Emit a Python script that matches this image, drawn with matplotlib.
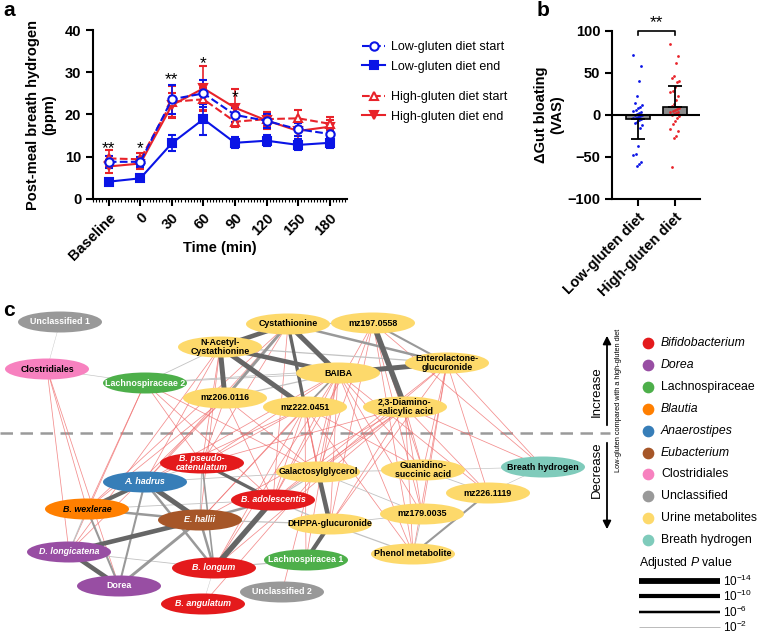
import numpy as np
import matplotlib.pyplot as plt
from matplotlib.patches import Ellipse
from matplotlib.lines import Line2D
from matplotlib.ticker import MultipleLocator

plt.rcParams['font.family'] = ['Liberation Sans', 'DejaVu Sans']
plt.rcParams['mathtext.fontset'] = 'custom'
plt.rcParams['mathtext.rm'] = 'Liberation Sans'
plt.rcParams['mathtext.it'] = 'Liberation Sans:italic'
plt.rcParams['axes.linewidth'] = 1.5

# ---------------- panel a: breath hydrogen ----------------
times = ['Baseline', '0', '30', '60', '90', '120', '150', '180']
low_start = [8.8, 8.8, 23.6, 25.0, 19.9, 18.5, 16.5, 15.4]
low_start_err = [1.4, 1.2, 3.4, 3.2, 1.6, 1.6, 1.6, 1.4]
low_end = [4.1, 4.9, 13.2, 18.9, 13.3, 13.8, 12.8, 13.3]
low_end_err = [0.5, 0.7, 1.9, 3.7, 1.3, 1.3, 1.3, 1.3]
high_start = [9.6, 9.4, 23.0, 23.6, 18.3, 18.9, 19.1, 17.8]
high_start_err = [2.0, 1.6, 3.7, 2.6, 1.3, 1.7, 2.0, 1.5]
high_end = [7.7, 8.4, 22.2, 26.2, 21.6, 18.6, 16.1, 17.1]
high_end_err = [1.5, 1.4, 3.0, 5.3, 4.4, 2.0, 1.8, 1.5]
star_labels = ['**', '*', '**', '*', '*']
star_y = [13.6, 13.6, 29.9, 33.7, 25.6]

# ---------------- panel b: gut bloating ----------------
groups = ['Low-gluten diet', 'High-gluten diet']
bar_mean = [-5, 9.5]
bar_err = [24, 25]
low_vals = [72, 58, 41, 23, 14, 12, 10, 8, 6, 5, 3, 2, 1, 0, 0, -1, -2, -3,
            -4, -5, -6, -8, -10, -12, -15, -37, -46, -48, -56, -58, -61]
high_vals = [85, 70, 62, 46, 44, 41, 39, 33, 29, 27, 23, 18, 13, 11, 8, 7, 6,
             5, 4, 3, 2, 1, 0, -1, -3, -7, -11, -17, -19, -25, -27, -62]

# ---------------- panel c: network ----------------
node_keys = ['U1', 'CLO', 'L2', 'NAC', 'CYS', 'M197', 'BAI', 'ENT', 'M206', 'M222',
             'DIA', 'BPS', 'AHA', 'GAL', 'GUA', 'BH', 'BWE', 'BAD', 'M226', 'EHA',
             'DHP', 'M179', 'DLO', 'LA1', 'PHE', 'BLO', 'DOR', 'U2', 'BAN']
node_labels = ['Unclassified 1', 'Clostridiales', 'Lachnospiraceae 2',
               'N-Acetyl-\nCystathionine', 'Cystathionine', 'mz197.0558', 'BAIBA',
               'Enterolactone-\nglucuronide', 'mz206.0116', 'mz222.0451',
               '2,3-Diamino-\nsalicylic acid', 'B. pseudo-\ncatenulatum', 'A. hadrus',
               'Galactosylglycerol', 'Guanidino-\nsuccinic acid', 'Breath hydrogen',
               'B. wexlerae', 'B. adolescentis', 'mz226.1119', 'E. hallii',
               'DHPPA-glucuronide', 'mz179.0035', 'D. longicatena', 'Lachnospiracea 1',
               'Phenol metabolite', 'B. longum', 'Dorea', 'Unclassified 2', 'B. angulatum']
node_x = [60, 47, 145, 220, 288, 373, 338, 447, 225, 305, 405, 202, 145, 318, 423,
          543, 87, 273, 488, 200, 330, 422, 69, 306, 413, 214, 119, 282, 203]
node_y = [322, 369, 383, 347, 324, 323, 373, 363, 398, 407, 407, 463, 482, 472, 470,
          467, 509, 500, 493, 520, 524, 514, 552, 560, 554, 568, 586, 592, 604]
node_group = ['unc', 'clo', 'lach', 'uri', 'uri', 'uri', 'uri', 'uri', 'uri', 'uri',
              'uri', 'bif', 'ana', 'uri', 'uri', 'bre', 'bla', 'bif', 'uri', 'eub',
              'uri', 'uri', 'dor', 'lach', 'uri', 'bif', 'dor', 'unc', 'bif']
node_italic = ['BPS', 'AHA', 'BWE', 'BAD', 'EHA', 'DLO', 'BLO', 'BAN']

group_keys = ['bif', 'dor', 'lach', 'bla', 'ana', 'eub', 'clo', 'unc', 'uri', 'bre']
group_names = ['Bifidobacterium', 'Dorea', 'Lachnospiraceae', 'Blautia', 'Anaerostipes',
               'Eubacterium', 'Clostridiales', 'Unclassified', 'Urine metabolites',
               'Breath hydrogen']
group_italic = [True, True, False, True, True, True, False, False, False, False]
group_colors = ['#e41a1c', '#984ea3', '#4daf4a', '#ff7f00', '#377eb8', '#a65628',
                '#f781bf', '#999999', '#fdd96b', '#7fcbbb']
dark_text_groups = ['uri', 'bre', 'clo', 'bla']

# positive associations (grey): node, node, -log10 adjusted P
pos_edges = [('CYS', 'BAI', 12), ('CYS', 'NAC', 11), ('NAC', 'M206', 12), ('NAC', 'M222', 12),
             ('NAC', 'BAI', 11), ('CYS', 'M222', 8), ('M197', 'DIA', 13), ('BAI', 'ENT', 12),
             ('CYS', 'ENT', 6), ('M197', 'ENT', 5), ('M206', 'CYS', 7), ('BAI', 'M222', 4),
             ('NAC', 'ENT', 3), ('L2', 'NAC', 2), ('L2', 'BAI', 2), ('L2', 'ENT', 2),
             ('CLO', 'L2', 1.5), ('U1', 'CLO', 1), ('GAL', 'DHP', 11), ('DHP', 'LA1', 10),
             ('BAD', 'BLO', 13), ('AHA', 'EHA', 12), ('AHA', 'BWE', 10), ('EHA', 'DLO', 11),
             ('DLO', 'DOR', 11), ('BPS', 'BAD', 8), ('EHA', 'BAD', 6), ('EHA', 'BWE', 6),
             ('EHA', 'DOR', 7), ('EHA', 'BLO', 6), ('AHA', 'DOR', 5), ('AHA', 'BLO', 6),
             ('BWE', 'DOR', 5), ('BPS', 'BLO', 4), ('BPS', 'EHA', 3), ('M226', 'PHE', 5),
             ('M179', 'GAL', 2), ('GUA', 'M226', 2), ('BH', 'GUA', 1.5), ('BH', 'M226', 1.5),
             ('DHP', 'BAD', 3), ('DHP', 'EHA', 3), ('GAL', 'AHA', 2), ('GAL', 'BAD', 3),
             ('LA1', 'BLO', 3), ('PHE', 'DHP', 3), ('M179', 'DHP', 2), ('BWE', 'DLO', 3),
             ('BLO', 'BAN', 1), ('DLO', 'BLO', 2), ('BPS', 'AHA', 2), ('BWE', 'BAD', 2),
             ('GAL', 'GUA', 2), ('M179', 'PHE', 2), ('M206', 'BAI', 3), ('CYS', 'M197', 3)]
# negative associations (red)
neg_edges = [('BAI', 'BPS'), ('BAI', 'BAD'), ('BAI', 'GAL'), ('BAI', 'GUA'), ('BAI', 'M179'),
             ('BAI', 'PHE'), ('BAI', 'DHP'), ('BAI', 'BLO'), ('BAI', 'LA1'), ('BAI', 'EHA'),
             ('BAI', 'M226'), ('BAI', 'AHA'), ('DIA', 'GAL'), ('DIA', 'GUA'), ('DIA', 'M179'),
             ('DIA', 'PHE'), ('DIA', 'DHP'), ('DIA', 'BAD'), ('DIA', 'BPS'), ('DIA', 'M226'),
             ('DIA', 'BLO'), ('DIA', 'EHA'), ('M222', 'BPS'), ('M222', 'AHA'), ('M222', 'BAD'),
             ('M222', 'GAL'), ('M222', 'DHP'), ('M222', 'BLO'), ('M222', 'PHE'), ('M222', 'GUA'),
             ('M222', 'EHA'), ('ENT', 'GUA'), ('ENT', 'M179'), ('ENT', 'PHE'), ('ENT', 'BH'),
             ('ENT', 'GAL'), ('ENT', 'DHP'), ('ENT', 'M226'), ('ENT', 'BAD'), ('M197', 'GAL'),
             ('M197', 'GUA'), ('M197', 'PHE'), ('M197', 'M179'), ('M197', 'BH'), ('M197', 'BAD'),
             ('M197', 'DHP'), ('CYS', 'BPS'), ('CYS', 'AHA'), ('CYS', 'BWE'), ('CYS', 'GAL'),
             ('CYS', 'BAD'), ('NAC', 'BPS'), ('NAC', 'AHA'), ('NAC', 'DLO'), ('NAC', 'EHA'),
             ('M206', 'AHA'), ('M206', 'BWE'), ('M206', 'BPS'), ('M206', 'DLO'), ('M206', 'BAD'),
             ('M206', 'GAL'), ('L2', 'BWE'), ('L2', 'DLO'), ('L2', 'BPS'), ('L2', 'GAL'),
             ('L2', 'BAD'), ('CLO', 'DLO'), ('CLO', 'BWE'), ('CLO', 'DOR'), ('DIA', 'BH'),
             ('M222', 'LA1'), ('GAL', 'BAN'), ('BAI', 'U2')]
pval_exp = [14, 10, 6, 2]

blue = '#0a14e6'
red = '#e8232a'

fig = plt.figure(figsize=(7.57, 6.36), dpi=100)

# ---------- a ----------
axa = fig.add_axes([93 / 757, 1 - 199 / 636, 254 / 757, 169 / 636])
xpos = np.arange(len(times))
ekw = dict(capsize=3, elinewidth=1.2, capthick=1.2, markersize=6, lw=1.5, mew=1.5)
axa.errorbar(xpos, high_end, yerr=high_end_err, color=red, marker='v', ls='-', **ekw)
axa.errorbar(xpos, high_start, yerr=high_start_err, color=red, marker='^', mfc='white',
             ls='--', **ekw)
axa.errorbar(xpos, low_end, yerr=low_end_err, color=blue, marker='s', ls='-', **ekw)
axa.errorbar(xpos, low_start, yerr=low_start_err, color=blue, marker='o', mfc='white',
             ls='--', **ekw)
for i, (s, y) in enumerate(zip(star_labels, star_y)):
    axa.text(xpos[i], y - 1.6, s, ha='center', va='center', fontsize=12.5)
axa.set_xlim(-0.5, 7.55)
axa.set_ylim(0, 40)
axa.set_yticks([0, 10, 20, 30, 40])
axa.set_xticks(xpos)
axa.set_xticklabels(times, rotation=45, ha='right', rotation_mode='anchor')
axa.xaxis.set_minor_locator(MultipleLocator(0.1))
axa.tick_params(which='minor', length=2.5, width=0.8)
axa.tick_params(which='major', length=5, width=1.5, labelsize=10.5)
for lab in axa.get_xticklabels() + axa.get_yticklabels():
    lab.set_fontweight('bold')
axa.spines[['top', 'right']].set_visible(False)
axa.set_ylabel('Post-meal breath hydrogen\n(ppm)', fontsize=10.5, fontweight='bold',
               labelpad=6)
axa.set_xlabel('Time (min)', fontsize=10.5, fontweight='bold')
axa.xaxis.set_label_coords(0.5, -0.25)

hkw = dict(markersize=6, mew=1.5, lw=1.5)
h1 = Line2D([], [], color=blue, ls='--', marker='o', mfc='white', **hkw)
h2 = Line2D([], [], color=blue, ls='-', marker='s', **hkw)
h3 = Line2D([], [], color=red, ls='--', marker='^', mfc='white', **hkw)
h4 = Line2D([], [], color=red, ls='-', marker='v', **hkw)
lkw = dict(loc='upper left', frameon=False, fontsize=9, handlelength=1.85,
           handletextpad=0.45, labelspacing=0.62, borderpad=0, borderaxespad=0)
fig.legend([h1, h2], ['Low-gluten diet start', 'Low-gluten diet end'],
           bbox_to_anchor=(362 / 757, 1 - 41 / 636), **lkw)
fig.legend([h3, h4], ['High-gluten diet start', 'High-gluten diet end'],
           bbox_to_anchor=(362 / 757, 1 - 91 / 636), **lkw)

# ---------- b ----------
axb = fig.add_axes([612 / 757, 1 - 199 / 636, 88 / 757, 168 / 636])
bx = np.array([0, 1])
axb.bar(bx, bar_mean, width=0.65, color='#8c8c8c', edgecolor='black', lw=1.2, zorder=2)
axb.errorbar(bx[0], bar_mean[0], yerr=[[bar_err[0]], [0]], color='black', capsize=5,
             elinewidth=1.3, capthick=1.3, zorder=4)
axb.errorbar(bx[1], bar_mean[1], yerr=[[0], [bar_err[1]]], color='black', capsize=5,
             elinewidth=1.3, capthick=1.3, zorder=4)
for gi, vals, col in [(0, low_vals, blue), (1, high_vals, red)]:
    offs = np.array([((k * 7) % 9 - 4) * 0.03 for k in range(len(vals))])
    axb.scatter(gi + offs, vals, s=4, color=col, zorder=3, linewidths=0)
axb.axhline(0, color='black', lw=1.5, zorder=3)
axb.plot([0, 0, 1, 1], [95, 100, 100, 95], color='black', lw=1.2, clip_on=False)
axb.text(0.5, 101, '**', ha='center', va='bottom', fontsize=12.5)
axb.set_xlim(-0.7, 1.68)
axb.set_ylim(-100, 100)
axb.set_yticks([-100, -50, 0, 50, 100])
axb.set_xticks(bx)
axb.set_xticklabels(groups, rotation=45, ha='right', rotation_mode='anchor')
axb.tick_params(which='major', length=5, width=1.5, labelsize=10.5)
for lab in axb.get_xticklabels() + axb.get_yticklabels():
    lab.set_fontweight('bold')
axb.spines[['top', 'right']].set_visible(False)
axb.set_ylabel('\u0394Gut bloating\n(VAS)', fontsize=10.5, fontweight='bold', labelpad=2)

# ---------- c ----------
axc = fig.add_axes([0, 0, 1, 1 - 300 / 636])
axc.set_xlim(0, 757)
axc.set_ylim(636, 300)
axc.axis('off')

pos = {k: (x, y) for k, x, y in zip(node_keys, node_x, node_y)}
for a, b in neg_edges:
    axc.plot([pos[a][0], pos[b][0]], [pos[a][1], pos[b][1]], color='#f07070',
             lw=0.55, alpha=0.8, zorder=1)
for a, b, lp in sorted(pos_edges, key=lambda e: e[2]):
    col = '#666666' if lp >= 8 else ('#999999' if lp >= 4 else '#c2c2c2')
    axc.plot([pos[a][0], pos[b][0]], [pos[a][1], pos[b][1]], color=col,
             lw=0.3 * lp, zorder=2, solid_capstyle='butt')

axc.plot([0, 610], [433, 433], color='#9a9a9a', lw=1.8, ls=(0, (5, 3)), zorder=0)

gcol = dict(zip(group_keys, group_colors))
for k, lab, x, y, g in zip(node_keys, node_labels, node_x, node_y, node_group):
    axc.add_patch(Ellipse((x, y), 84, 21, facecolor=gcol[g], edgecolor='none', zorder=3))
    tc = 'black' if g in dark_text_groups else 'white'
    style = 'italic' if k in node_italic else 'normal'
    axc.text(x, y, lab, ha='center', va='center', fontsize=6.4, fontweight='bold',
             color=tc, style=style, zorder=4, linespacing=1.0)

# increase / decrease arrows
axc.annotate('', xy=(607, 333), xytext=(607, 428),
             arrowprops=dict(arrowstyle='-|>', color='black', lw=1.3, mutation_scale=12))
axc.annotate('', xy=(607, 532), xytext=(607, 440),
             arrowprops=dict(arrowstyle='-|>', color='black', lw=1.3, mutation_scale=12))
axc.text(597, 392, 'Increase', rotation=90, ha='center', va='center', fontsize=9.5)
axc.text(597, 470, 'Decrease', rotation=90, ha='center', va='center', fontsize=9.5)
axc.text(618, 400, 'Low-gluten compared with a high-gluten diet', rotation=90,
         ha='center', va='center', fontsize=5.3)

# group legend
for i, (name, col, it) in enumerate(zip(group_names, group_colors, group_italic)):
    yy = 343 + i * 21.9
    axc.scatter([648], [yy], s=55, color=col, zorder=3)
    axc.text(661, yy, name, ha='left', va='center', fontsize=8.8,
             style='italic' if it else 'normal')

# adjusted P value legend
axc.text(639, 563, 'Adjusted $\\mathit{P}$ value', ha='left', va='center', fontsize=8.8)
for e, yy in zip(pval_exp, [581, 596, 612, 627]):
    axc.plot([639, 720], [yy, yy], color='black' if e > 2 else '#b0b0b0',
             lw=0.3 * e, solid_capstyle='butt')
    axc.text(723, yy, '10$^{-%d}$' % e, ha='left', va='center', fontsize=8.5)

fig.text(3 / 757, 1 - 11 / 636, 'a', fontsize=15, fontweight='bold', va='center')
fig.text(537 / 757, 1 - 11 / 636, 'b', fontsize=15, fontweight='bold', va='center')
fig.text(3 / 757, 1 - 310 / 636, 'c', fontsize=15, fontweight='bold', va='center')

fig.savefig('out.png', dpi=100)
